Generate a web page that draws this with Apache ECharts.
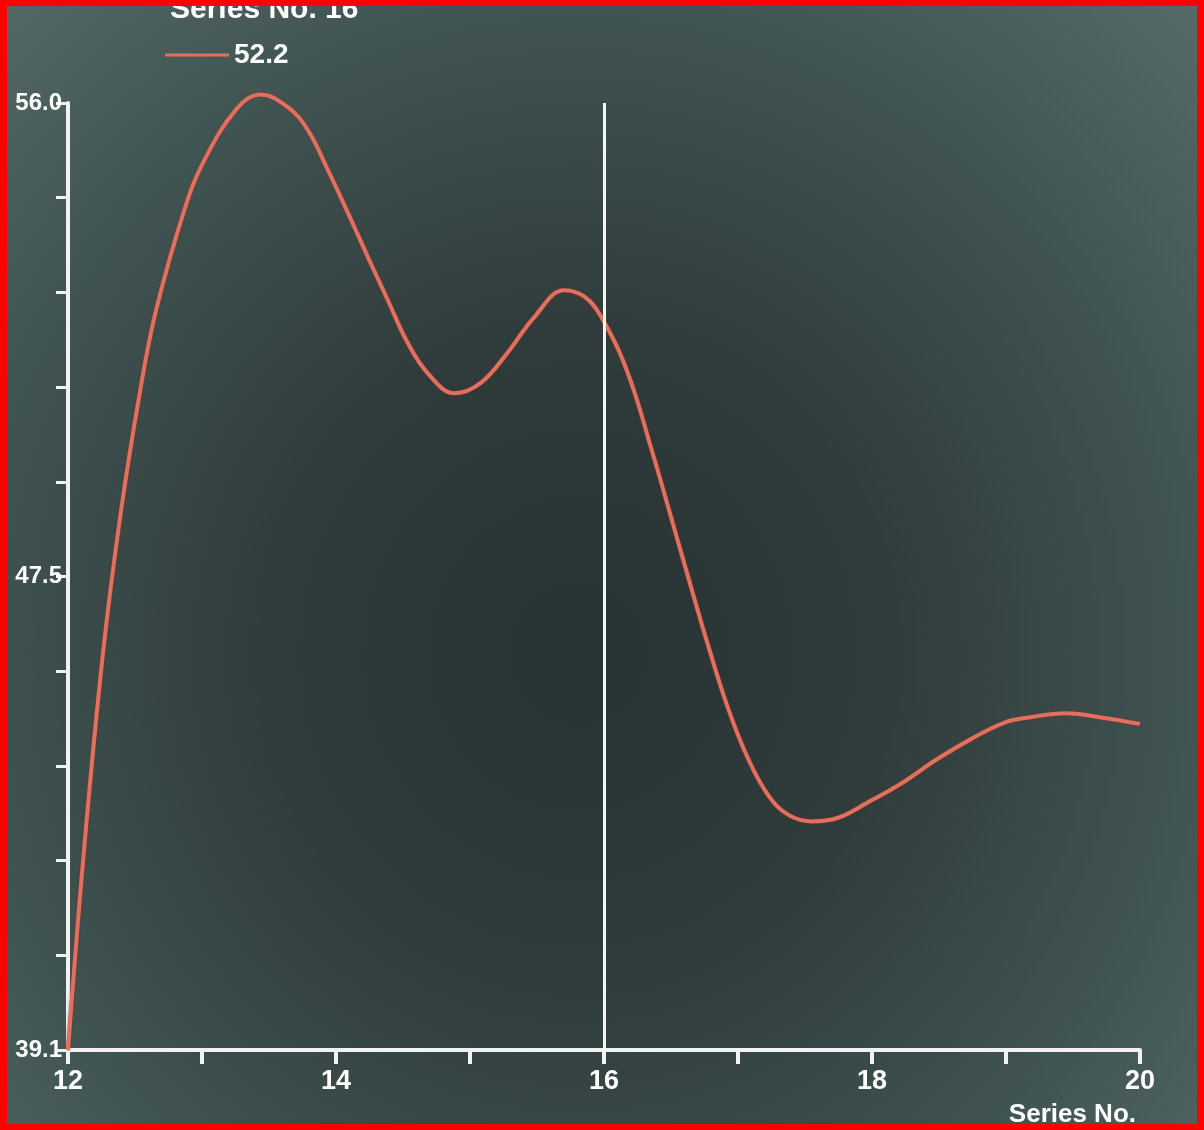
<!DOCTYPE html>
<html>
<head>
<meta charset="utf-8">
<script src="https://cdn.jsdelivr.net/npm/echarts@6/dist/echarts.min.js"></script>
<style>
  html, body { margin: 0; padding: 0; background: #ff0000; }
  #wrap { position: absolute; left: 7px; top: 6px; width: 1190px; height: 1118px;
    background: radial-gradient(ellipse at 48% 58%, #283333 0%, #2f3c3b 35%, #405452 70%, #566a67 100%); overflow: hidden; }
  #chart { position: absolute; left: -7px; top: -6px; width: 1204px; height: 1130px; }
</style>
</head>
<body>
<div id="wrap"><div id="chart"></div></div>
<script>
// ---- data ----
const seriesName = '52.2';
const crosshairTitle = 'Series No. 16';
const crosshairX = 16;
const xValues = [12.0, 12.113, 12.257, 12.392, 12.543, 12.657, 12.868, 13.011, 13.26, 13.434, 13.638, 13.789, 13.94, 14.089, 14.238, 14.387, 14.535, 14.684, 14.885, 15.078, 15.279, 15.48, 15.703, 15.851, 15.97, 16.17, 16.369, 16.517, 16.664, 16.782, 16.93, 17.077, 17.225, 17.373, 17.55, 17.742, 17.963, 18.221, 18.473, 18.725, 18.985, 19.183, 19.443, 19.695, 20.0];
const yValues = [39.1, 42.49, 46.09, 48.66, 50.93, 52.30, 54.09, 54.95, 55.90, 56.15, 55.93, 55.52, 54.80, 54.04, 53.25, 52.48, 51.72, 51.18, 50.82, 51.00, 51.54, 52.18, 52.66, 52.55, 52.22, 51.23, 49.70, 48.47, 47.24, 46.28, 45.17, 44.29, 43.65, 43.30, 43.18, 43.24, 43.51, 43.86, 44.27, 44.63, 44.94, 45.04, 45.11, 45.04, 44.92];
const yTickLabels = ['39.1', '', '', '', '', '47.5', '', '', '', '', '56.0'];
const xTickLabels = {12: '12', 14: '14', 16: '16', 18: '18', 20: '20'};
const xAxisName = 'Series No.';

const yMin = 39.1, yMax = 56.0;
const yInterval = (yMax - yMin) / 10;

const font = "'Liberation Sans Narrow', 'Liberation Sans', Arial, sans-serif";
const chart = echarts.init(document.getElementById('chart'));
chart.setOption({
  backgroundColor: 'transparent',
  animation: false,
  title: {
    text: crosshairTitle, left: 165, top: -10,
    textStyle: { color: '#ffffff', fontSize: 30, fontWeight: 'bold', fontFamily: font }
  },
  legend: {
    left: 160, top: 36, itemWidth: 64, itemHeight: 14, itemGap: 10,
    textStyle: { color: '#ffffff', fontSize: 28, fontWeight: 'bold', fontFamily: font },
    data: [{ name: seriesName, icon: 'path://M0,6 L64,6 L64,9 L0,9 Z' }]
  },
  grid: { left: 68, right: 64, top: 103, bottom: 80 },
  xAxis: {
    type: 'value', min: 12, max: 20, interval: 1,
    splitLine: { show: false },
    axisLine: { lineStyle: { color: '#f2f2f2', width: 4 } },
    axisTick: { length: 14, lineStyle: { color: '#f2f2f2', width: 4 } },
    axisLabel: {
      color: '#ffffff', fontSize: 27, fontWeight: 'bold', fontFamily: font, margin: 18,
      formatter: v => xTickLabels[v] || ''
    },
    name: xAxisName, nameLocation: 'end', nameGap: -4,
    nameTextStyle: { color: '#ffffff', fontSize: 26, fontWeight: 'bold', fontFamily: font,
      align: 'right', verticalAlign: 'top', padding: [52, 0, 0, 0] }
  },
  yAxis: {
    type: 'value', min: yMin, max: yMax, interval: yInterval,
    splitLine: { show: false },
    axisLine: { show: true, lineStyle: { color: '#f2f2f2', width: 4 } },
    axisTick: { show: true, length: 12, lineStyle: { color: '#f2f2f2', width: 3 } },
    axisLabel: {
      color: '#ffffff', fontSize: 24, fontWeight: 'bold', fontFamily: font, margin: 6,
      formatter: (v) => {
        const i = Math.round((v - yMin) / yInterval);
        return yTickLabels[i] || '';
      }
    }
  },
  series: [{
    name: seriesName, type: 'line', smooth: 0.4, symbol: 'none', clip: false,
    data: xValues.map((x, i) => [x, yValues[i]]),
    lineStyle: { color: '#e0705f', width: 4, shadowColor: 'rgba(150,40,30,0.8)', shadowBlur: 2 },
    itemStyle: { color: '#e0705f' },
    markLine: {
      silent: true, symbol: 'none', label: { show: false },
      lineStyle: { color: '#f4f4f0', width: 3, type: 'solid' },
      data: [{ xAxis: crosshairX }]
    }
  }]
});
</script>
</body>
</html>
